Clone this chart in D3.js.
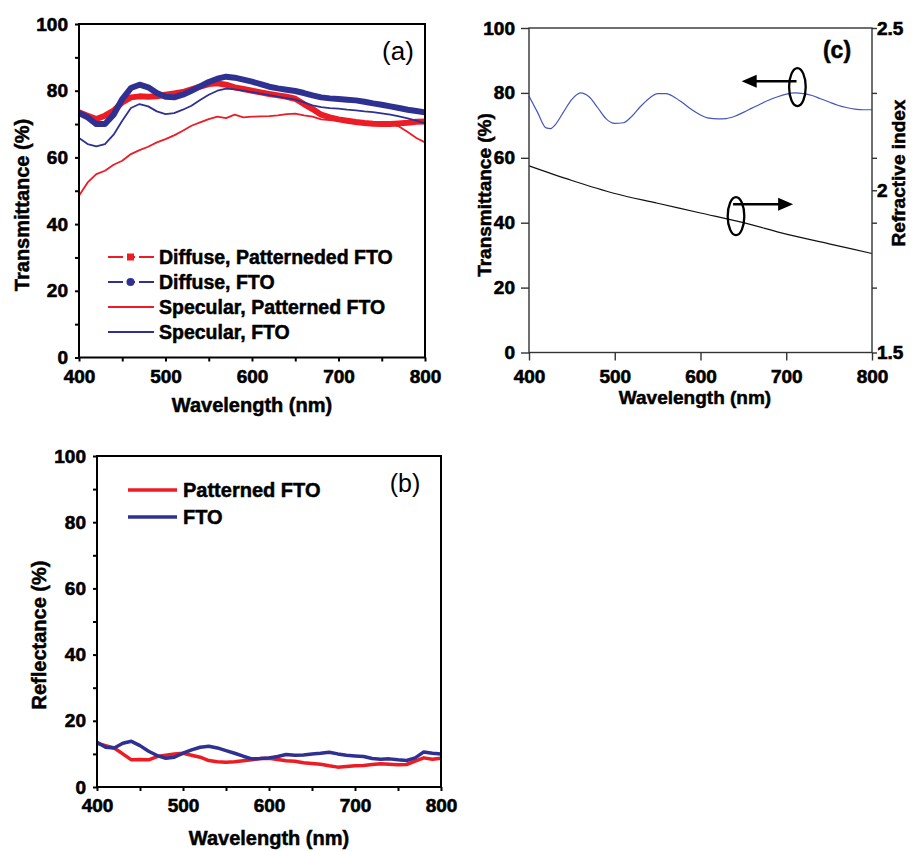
<!DOCTYPE html>
<html>
<head>
<meta charset="utf-8">
<script src="https://cdn.jsdelivr.net/npm/d3@7"></script>
<style>
body { margin: 0; background: #fff; }
svg text { font-family: "Liberation Sans", Arial, sans-serif; font-weight: bold; fill: #000; stroke: #000; stroke-width: 0.5px; }
svg text.plain { stroke: none; }
</style>
</head>
<body>
<script>
//wavelength grid (nm) of the measured spectra, panels (a) and (b)
var wavelength = [400,410,420,430,440,450,460,470,480,490,500,510,520,530,540,550,560,570,580,590,600,
                  610,620,630,640,650,660,670,680,690,700,710,720,730,740,750,760,770,780,790,800];

//panel (a) transmittance (%)
var diffusePatterned = [73.5,72.5,71.5,72.5,74,76.5,78,78.3,78.2,78.3,78.8,79.2,79.6,80.4,81.2,82,82.2,81.8,81,80.5,80,
                        79.5,79,78.6,78.2,77.6,76,74.5,72.8,72,71.4,71,70.6,70.3,70.1,70,70,70.2,70.4,70.7,70.8];
var diffuseFTO = [73.3,72,70,70,72.8,77.5,80.8,81.8,81,79.3,78.2,78,78.8,80,81.3,82.6,83.6,84.2,83.9,83.3,82.7,
                  82,81.2,80.7,80.3,79.9,79.3,78.6,78,77.7,77.5,77.3,77.1,76.7,76.2,75.8,75.3,74.8,74.3,73.9,73.5];
var specularPatterned = [48.5,52.5,55,56,57.8,59,61,62.2,63.2,64.5,65.5,66.6,68,69.5,70.5,71.5,72.2,71.8,72.8,72,72.2,
                         72.3,72.4,72.6,73,73.1,72.6,72.2,71.4,71.2,71,70.8,70.6,70.3,70.2,70,69.8,69.3,67.6,65.8,64.5];
var specularFTO = [65.8,64,63.3,64,66.8,71,74.8,76,75.3,73.8,73,73.3,74.3,75.5,77.2,78.8,80,80.6,80.4,80,79.6,
                   79.1,78.7,78.2,77.8,77.3,76.5,75.6,75.1,74.8,74.6,74.3,74.1,73.8,73.6,73.2,72.8,72.3,71.7,71,70.2];

//panel (b) reflectance (%)
var reflPatterned = [13.2,12.5,11.8,10,8.2,8.3,8.2,9.2,9.6,10,10.2,9.6,9,8,7.6,7.5,7.6,7.9,8.2,8.6,8.7,
                     8.3,7.9,7.8,7.3,7.1,6.9,6.4,6,6.2,6.4,6.5,6.8,7,6.9,6.7,6.8,7.8,8.8,8.4,8.7];
var reflFTO = [13.5,12,11.8,13.2,13.8,12.5,10.8,9.5,8.7,9,10.2,11.2,12,12.3,11.8,11,10.2,9.3,8.5,8.6,8.8,
               9.2,9.8,9.6,9.7,10,10.2,10.5,10,9.6,9.4,9.2,8.6,8.4,8.5,8.2,8,8.8,10.6,10.2,10];

//panel (c) simulated transmittance and refractive index
var wavelengthC = [400,410,420,425,430,440,450,460,470,480,490,500,510,520,530,540,550,560,570,580,590,600,
                   610,620,630,640,650,660,670,680,690,700,710,720,730,740,750,760,770,780,790,800];
var transC = [79,74,69.2,69,70,74,78,80,78.8,75.5,72,70.6,70.8,72.8,75.8,78.3,79.8,79.8,78.6,76.8,74.8,73.2,
              72.2,72,72.1,72.8,74,75.3,76.6,77.8,78.8,79.6,80,79.8,79.2,78.2,77.2,76.2,75.5,75,74.8,74.8];
var wavelengthN = [400,450,500,550,600,650,700,750,800];
var indexN = [2.075,2.03,1.99,1.96,1.93,1.9,1.865,1.835,1.805];

//tick values
var xTicks = [400,500,600,700,800],
    xMinor = [450,550,650,750],
    yTicks = [0,20,40,60,80,100],
    yMinor = [10,30,50,70,90],
    nTicks = [1.5,1.7,1.9,2,2.1,2.3,2.5],
    nLabels = [1.5,2,2.5];

//legend entries
var legendA = ["Diffuse, Patterneded FTO","Diffuse, FTO","Specular, Patterned FTO","Specular, FTO"];
var legendB = ["Patterned FTO","FTO"];

var red = "#ed1c24",
    navy = "#2e3192",
    thinBlue = "#4555bd";

var svg = d3.select("body")
    .append("svg")
    .attr("width", 913)
    .attr("height", 851);

svg.append("rect").attr("width", 913).attr("height", 851).attr("fill", "#fff");

//style an axis group: bold labels, no domain line
function styleAxis(g, size, width, color){
    g.attr("font-family", null).attr("font-size", null);
    g.select(".domain").remove();
    g.selectAll("line").attr("stroke", color).attr("stroke-width", width);
    g.selectAll("text")
        .style("font-family", "'Liberation Sans', Arial, sans-serif")
        .style("font-weight", "bold")
        .style("font-size", size + "px")
        .style("fill", "#000")
        .style("stroke", "#000")
        .style("stroke-width", "0.6px");
}

//one framed panel with left/bottom axes
function framePanel(x, y, opt){
    var x0 = x.range()[0], x1 = x.range()[1],
        y0 = y.range()[0], y1 = y.range()[1];

    var yAxis = svg.append("g")
        .attr("transform", "translate(" + x0 + ",0)")
        .call(d3.axisLeft(y).tickValues(yTicks).tickSize(opt.tick).tickPadding(opt.padY));
    styleAxis(yAxis, opt.font, opt.width, opt.color);

    var xAxis = svg.append("g")
        .attr("transform", "translate(0," + y0 + ")")
        .call(d3.axisBottom(x).tickValues(xTicks).tickSize(opt.tick).tickPadding(opt.padX));
    styleAxis(xAxis, opt.font, opt.width, opt.color);

    if (opt.minor){
        var yM = svg.append("g")
            .attr("transform", "translate(" + x0 + ",0)")
            .call(d3.axisLeft(y).tickValues(yMinor).tickSize(opt.tick).tickFormat(""));
        styleAxis(yM, opt.font, opt.width, opt.color);
        var xM = svg.append("g")
            .attr("transform", "translate(0," + y0 + ")")
            .call(d3.axisBottom(x).tickValues(xMinor).tickSize(opt.tick).tickFormat(""));
        styleAxis(xM, opt.font, opt.width, opt.color);
    }

    svg.append("rect")
        .attr("x", x0).attr("y", y1)
        .attr("width", x1 - x0).attr("height", y0 - y1)
        .attr("fill", "none")
        .attr("stroke", opt.color)
        .attr("stroke-width", opt.width);
}

function drawSeries(x, y, xs, ys, color, width, curve){
    var line = d3.line()
        .curve(curve || d3.curveLinear)
        .x(function(d, i){ return x(xs[i]); })
        .y(function(d){ return y(d); });
    svg.append("path")
        .datum(ys)
        .attr("d", line)
        .attr("fill", "none")
        .attr("stroke", color)
        .attr("stroke-width", width)
        .attr("stroke-linejoin", "round");
}

function rotatedTitle(text, x, y, size){
    svg.append("text")
        .attr("transform", "translate(" + x + "," + y + ") rotate(-90)")
        .attr("text-anchor", "middle")
        .style("font-size", size + "px")
        .text(text);
}

function title(text, x, y, size, weight){
    svg.append("text")
        .attr("class", weight == "normal" ? "plain" : null)
        .attr("x", x).attr("y", y)
        .attr("text-anchor", "middle")
        .style("font-size", size + "px")
        .style("font-weight", weight || "bold")
        .text(text);
}

// ---------- panel (a) ----------
var xA = d3.scaleLinear().domain([400, 800]).range([79, 425]);
var yA = d3.scaleLinear().domain([0, 100]).range([357.5, 24]);

drawSeries(xA, yA, wavelength, specularPatterned, red, 1.8);
drawSeries(xA, yA, wavelength, diffusePatterned, red, 6);
drawSeries(xA, yA, wavelength, diffuseFTO, navy, 6);
drawSeries(xA, yA, wavelength, specularFTO, navy, 1.8);

framePanel(xA, yA, {tick: 4, padY: 7, padX: 8, font: 19, width: 2, color: "#000", minor: true});

rotatedTitle("Transmittance (%)", 29, 205, 20);
title("Wavelength (nm)", 252, 412, 20);
title("(a)", 398, 60, 26, "normal");

//legend (a)
var legA = svg.append("g");
var legColors = [red, navy, red, navy];
legendA.forEach(function(name, i){
    var ly = 257 + i * 25;
    legA.append("line")
        .attr("x1", 108).attr("x2", 154)
        .attr("y1", ly).attr("y2", ly)
        .attr("stroke", legColors[i])
        .attr("stroke-width", 1.8)
        .attr("stroke-dasharray", i < 2 ? "15,4,8,4,15" : null);
    if (i == 0){
        legA.append("rect")
            .attr("x", 127).attr("y", ly - 3.5)
            .attr("width", 7).attr("height", 7)
            .attr("fill", red);
    } else if (i == 1){
        legA.append("circle")
            .attr("cx", 130.5).attr("cy", ly).attr("r", 4)
            .attr("fill", navy);
    }
    legA.append("text")
        .attr("x", 159).attr("y", ly)
        .attr("dy", "0.36em")
        .style("font-size", "19.5px")
        .text(name);
});

// ---------- panel (b) ----------
var xB = d3.scaleLinear().domain([400, 800]).range([97, 441]);
var yB = d3.scaleLinear().domain([0, 100]).range([787, 456]);

drawSeries(xB, yB, wavelength, reflPatterned, red, 3.5);
drawSeries(xB, yB, wavelength, reflFTO, navy, 3.5);

framePanel(xB, yB, {tick: 4, padY: 7, padX: 8, font: 19, width: 2, color: "#000", minor: true});

rotatedTitle("Reflectance (%)", 46, 635, 20);
title("Wavelength (nm)", 269, 845, 20);
title("(b)", 405, 492, 25, "normal");

var legColorsB = [red, navy];
legendB.forEach(function(name, i){
    var ly = 490 + i * 27;
    svg.append("line")
        .attr("x1", 128).attr("x2", 177)
        .attr("y1", ly).attr("y2", ly)
        .attr("stroke", legColorsB[i])
        .attr("stroke-width", 3.5);
    svg.append("text")
        .attr("x", 183).attr("y", ly)
        .attr("dy", "0.36em")
        .style("font-size", "20px")
        .text(name);
});

// ---------- panel (c) ----------
var xC = d3.scaleLinear().domain([400, 800]).range([529, 872]);
var yC = d3.scaleLinear().domain([0, 100]).range([352.5, 28]);
var nC = d3.scaleLinear().domain([1.5, 2.5]).range([352.5, 28]);

drawSeries(xC, yC, wavelengthC, transC, thinBlue, 1.2, d3.curveMonotoneX);
drawSeries(xC, nC, wavelengthN, indexN, "#111", 1.2, d3.curveMonotoneX);

framePanel(xC, yC, {tick: 8, padY: 6, padX: 9, font: 19, width: 1.4, color: "#333", minor: false});

var nAxis = svg.append("g")
    .attr("transform", "translate(872,0)")
    .call(d3.axisRight(nC).tickValues(nTicks).tickSize(5).tickPadding(0)
        .tickFormat(function(d){ return nLabels.indexOf(d) >= 0 ? String(d) : ""; }));
styleAxis(nAxis, 19, 1.4, "#333");

rotatedTitle("Transmittance (%)", 491, 195, 19);
rotatedTitle("Refractive index", 905, 173, 19);
title("Wavelength (nm)", 695, 404, 19);
title("(c)", 837, 58, 23);

//arrows and ellipses showing which axis each curve belongs to
var arrows = [
    {ex: 713, ey: 81.8, from: 712, to: 648, ay: 83.6},
    {ex: 641.4, ey: 42, from: 638, to: 708, ay: 45.7}
];
arrows.forEach(function(a){
    var y = yC(a.ay),
        x1 = xC(a.from),
        x2 = xC(a.to),
        dir = x2 > x1 ? 1 : -1;
    svg.append("ellipse")
        .attr("cx", xC(a.ex)).attr("cy", yC(a.ey))
        .attr("rx", 8.3).attr("ry", 19)
        .attr("fill", "none")
        .attr("stroke", "#000")
        .attr("stroke-width", 2.3);
    svg.append("line")
        .attr("x1", x1).attr("x2", x2 - dir * 14)
        .attr("y1", y).attr("y2", y)
        .attr("stroke", "#000")
        .attr("stroke-width", 2.5);
    svg.append("path")
        .attr("d", "M" + x2 + "," + y + "L" + (x2 - dir * 15) + "," + (y - 6.5) + "L" + (x2 - dir * 15) + "," + (y + 6.5) + "Z")
        .attr("fill", "#000");
});
</script>
</body>
</html>
